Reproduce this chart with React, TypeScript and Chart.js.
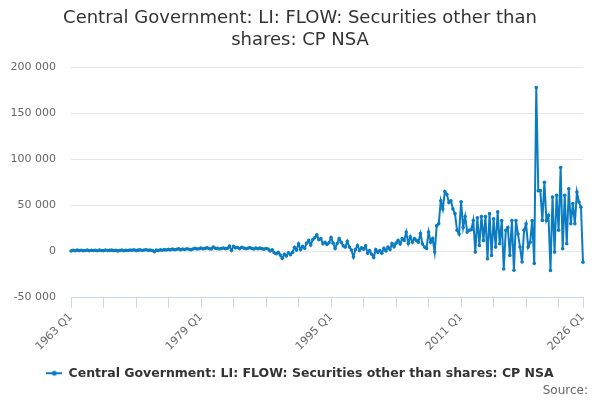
import React, { useEffect, useRef } from 'react';
import { Chart, registerables } from 'chart.js';

Chart.register(...registerables);

const firstYear = 1963;
const lastYear = 2026;

// quarterly categories, 1963 Q1 .. 2026 Q1
const quarters: string[] = [];
for (let y = firstYear; y <= lastYear; y++) {
  for (let q = 1; q <= 4; q++) {
    if (y === lastYear && q > 1) break;
    quarters.push(`${y} Q${q}`);
  }
}

const titleLines = ['Central Government: LI: FLOW: Securities other than', 'shares: CP NSA'];
const seriesName = 'Central Government: LI: FLOW: Securities other than shares: CP NSA';

// one row per year, Q1..Q4
const flowValues: number[] = [
  500, 1200, 800, 1400, // 1963
  900, 1300, 700, 1100,
  1500, 800, 1200, 1000,
  1300, 700, 1400, 1100,
  800, 1500, 1000, 1200,
  1400, 900, 1300, 600,
  1100, 1600, 800, 1300,
  1000, 1500, 1200, 1800, // 1970
  900, 1400, 1700, 1100,
  1600, 1900, 1200, 1500,
  1000, -300, 1400, 1000,
  1700, 1300, 2000, 1500,
  2200, 1700, 2500, 1900,
  2300, 2800, 1800, 2600,
  2100, 2900, 2400, 1900,
  2700, 3300, 2600, 3000,
  3600, 2800, 3300, 3900, // 1979
  3100, 2600, 4700, 3500,
  3400, 2700, 3200, 3800,
  3000, 3400, 5800, 1000,
  5500, 3900, 4200, 3000,
  4500, 3600, 2900, 3500,
  4100, 3200, 2600, 3800,
  2900, 3600, 3000, 2500,
  3200, 2600, 500, 1800,
  -1500, -2500, -900, -4000,
  -7500, -3000, -5000, -1500, // 1989
  -3500, -1000, 4500, 1500,
  8300, 2000, 5500, 3500,
  9000, 12000, 7000, 13000,
  15000, 18000, 12700, 14000,
  8300, 10000, 7500, 9500,
  15000, 9000, 3300, 8700, // 1995
  14000, 10000, 6000, 4700,
  11000, 4700, 1500, -6000,
  2000, 6500, 1000, 4000,
  2500, 6000, -2000, 1000,
  -3000, -6500, 2000, -1000, // 2000
  1000, -2000, 3500, 500,
  4700, 2000, 8700, 5000,
  9000, 12000, 8000, 14000,
  12000, 21000, 8700, 16000,
  10000, 14000, 12000, 10000,
  19500, 8000, 4700, 3300,
  21000, 10000, 14000, -700,
  28000, 30000, 55000, 46000, // 2008
  65000, 62000, 53000, 55000,
  46000, 41000, 23000, 19000,
  54000, 26000, 38000, 21000, // 2011
  23000, 23500, 33500, -700,
  36500, 6500, 38000, 12000,
  38000, -8000, 41000, -4300,
  35500, 4700, 43000, 8300,
  33500, -19000, 23000, 26000,
  -4300, 33500, -20500, 33500,
  19000, 4700, -11500, 23000,
  30000, 4700, 10000, 33500,
  -13000, 178000, 66000, 66000, // 2020
  33700, 75000, 33700, 39000,
  -20600, 59000, -700, 61000,
  23000, 91000, 3000, 61000,
  8400, 68000, 30000, 52000,
  30000, 64500, 53600, 48000, // 2025
  -11600, // 2026 Q1
];

const labelledQuarters = ['1963 Q1', '1979 Q1', '1995 Q1', '2011 Q1', '2026 Q1'];
const markedQuarters = [
  '1963 Q1', '1967 Q1', '1971 Q1', '1975 Q1', '1979 Q1', '1983 Q1', '1987 Q1', '1991 Q1', '1995 Q1',
  '1999 Q1', '2003 Q1', '2007 Q1', '2011 Q1', '2015 Q1', '2019 Q1', '2023 Q1', '2026 Q1',
];

const yMin = -50000;
const yMax = 200000;
const yStep = 50000;

const lineColor = '#0b7cc1';
const fontFamily = '"DejaVu Sans", Verdana, sans-serif';

const fmt = (v: number) => {
  const s = String(Math.abs(v)).replace(/\B(?=(\d{3})+(?!\d))/g, ' ');
  return v < 0 ? '-' + s : s;
};

const makeMarker = () => {
  const c = document.createElement('canvas');
  c.width = 16;
  c.height = 8;
  const g = c.getContext('2d');
  if (g) {
    g.strokeStyle = lineColor;
    g.lineWidth = 2;
    g.beginPath();
    g.moveTo(0, 4);
    g.lineTo(16, 4);
    g.stroke();
    g.fillStyle = lineColor;
    g.beginPath();
    g.arc(8, 4, 2.5, 0, Math.PI * 2);
    g.fill();
  }
  return c;
};

const sourceNote = {
  id: 'sourceNote',
  afterDraw(chart: Chart) {
    const { ctx, width } = chart;
    ctx.save();
    ctx.font = `12px ${fontFamily}`;
    ctx.fillStyle = '#666666';
    ctx.textAlign = 'right';
    ctx.textBaseline = 'middle';
    ctx.fillText('Source:', width - 12, 391);
    ctx.restore();
  },
};

const App: React.FC = () => {
  const canvasRef = useRef<HTMLCanvasElement>(null);
  const chartRef = useRef<Chart | null>(null);

  useEffect(() => {
    if (!canvasRef.current) return;
    if (chartRef.current) chartRef.current.destroy();

    chartRef.current = new Chart(canvasRef.current, {
      type: 'line',
      data: {
        labels: quarters,
        datasets: [
          {
            label: seriesName,
            data: flowValues,
            borderColor: lineColor,
            backgroundColor: lineColor,
            borderWidth: 2,
            pointRadius: 1.8,
            pointBackgroundColor: lineColor,
            pointBorderWidth: 0,
            tension: 0,
          },
        ],
      },
      options: {
        animation: false,
        responsive: true,
        maintainAspectRatio: false,
        layout: { padding: { top: 0, right: 0, bottom: 10.5, left: 0 } },
        plugins: {
          title: {
            display: true,
            text: titleLines,
            color: '#333333',
            font: { family: fontFamily, size: 18, weight: 'normal' },
            padding: { top: 8, bottom: 16 },
          },
          legend: {
            position: 'bottom',
            labels: {
              usePointStyle: true,
              pointStyle: makeMarker(),
              pointStyleWidth: 16,
              color: '#333333',
              font: { family: fontFamily, size: 12.5, weight: 'bold' },
              padding: 10,
            },
          },
          tooltip: { enabled: false },
        },
        scales: {
          x: {
            type: 'category',
            offset: false,
            grid: {
              drawOnChartArea: false,
              drawTicks: true,
              tickLength: 10,
              color: (ctx: any) =>
                markedQuarters.includes(quarters[ctx.index]) ? '#ccd6eb' : 'rgba(0,0,0,0)',
            },
            border: { display: true, color: '#ccd6eb' },
            ticks: {
              autoSkip: false,
              minRotation: 45,
              maxRotation: 45,
              color: '#666666',
              font: { family: fontFamily, size: 11 },
              callback: (_v: any, i: number) =>
                labelledQuarters.includes(quarters[i]) ? quarters[i] : '',
            },
            afterFit: (s: any) => {
              s.height = 59.5;
            },
          },
          y: {
            min: yMin,
            max: yMax,
            grid: { color: '#e6e6e6', drawTicks: false },
            border: { display: false },
            ticks: {
              stepSize: yStep,
              color: '#666666',
              font: { family: fontFamily, size: 11 },
              padding: 15,
              callback: (v: any) => fmt(Number(v)),
            },
            afterFit: (s: any) => {
              s.width = 71;
            },
          },
          yRight: {
            position: 'right',
            display: true,
            grid: { display: false },
            border: { display: false },
            ticks: { display: false },
            afterFit: (s: any) => {
              s.width = 17;
            },
          },
        },
      },
      plugins: [sourceNote],
    });

    return () => {
      if (chartRef.current) {
        chartRef.current.destroy();
        chartRef.current = null;
      }
    };
  }, []);

  return (
    <div style={{ position: 'fixed', left: 0, top: 0, width: 600, height: 400, background: '#ffffff' }}>
      <canvas ref={canvasRef}></canvas>
    </div>
  );
};

export default App;
